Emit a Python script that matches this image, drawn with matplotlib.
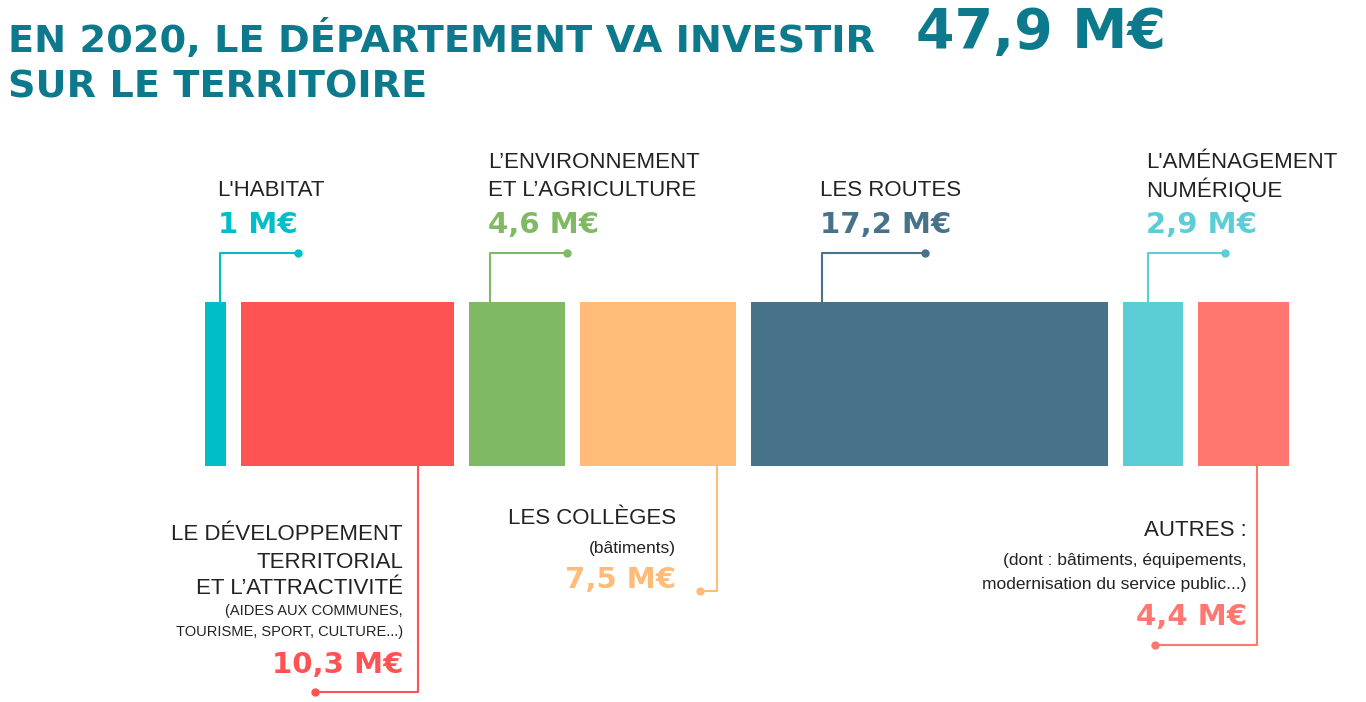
import matplotlib
matplotlib.use("Agg")
import matplotlib.pyplot as plt

# data
categories = ["L'HABITAT", "LE DÉVELOPPEMENT TERRITORIAL", "L'ENVIRONNEMENT ET L'AGRICULTURE",
              "LES COLLÈGES", "LES ROUTES", "L'AMÉNAGEMENT NUMÉRIQUE", "AUTRES"]
values = [1.0, 10.3, 4.6, 7.5, 17.2, 2.9, 4.4]
value_labels = ["1 M€", "10,3 M€", "4,6 M€", "7,5 M€", "17,2 M€", "2,9 M€", "4,4 M€"]
colors = ["#00BEC8", "#FF5252", "#80B964", "#FFBB77", "#467389", "#5BCDD6", "#FF776E"]
total_label = "47,9 M€"

W, H = 1366, 702
fig = plt.figure(figsize=(W / 100, H / 100), dpi=100)
ax = fig.add_axes([0, 0, 1, 1])
ax.set_xlim(0, W)
ax.set_ylim(H, 0)
ax.axis("off")

FONT = "Liberation Sans"
BOLD = "DejaVu Sans"
TITLE_C = "#0C7A8C"
TXT = "#222222"

ax.text(8, 40, "EN 2020, LE DÉPARTEMENT VA INVESTIR", fontsize=27.5, fontweight="bold",
        color=TITLE_C, family=BOLD, va="center")
ax.text(916, 33, total_label, fontsize=40, fontweight="bold", color=TITLE_C, family=BOLD, va="center")
ax.text(8, 88, "SUR LE TERRITOIRE", fontsize=27.5, fontweight="bold", color=TITLE_C, family=BOLD, va="center")

# bars: width proportional to value
x0, x1, gap = 205, 1289, 15
scale = (x1 - x0 - gap * (len(values) - 1)) / sum(values)
top, bot = 302, 466
lefts = []
x = x0
for v, c in zip(values, colors):
    lefts.append(x)
    ax.add_patch(plt.Rectangle((x, top), v * scale, bot - top, color=c, lw=0))
    x += v * scale + gap

def leader_up(i, frac, length):
    lx = lefts[i] + values[i] * scale * frac
    ax.plot([lx, lx, lx + length], [top, 253, 253], color=colors[i], lw=1.5)
    ax.plot(lx + length, 253, "o", color=colors[i], ms=5)
    return lx

def leader_down(i, frac, ybot, xend):
    lx = lefts[i] + values[i] * scale * frac
    ax.plot([lx, lx, xend], [bot, ybot, ybot], color=colors[i], lw=1.5)
    ax.plot(xend, ybot, "o", color=colors[i], ms=5)

# top labels
top_items = [(0, 0.7, 78, ["L'HABITAT"]),
             (2, 0.22, 77, ["L’ENVIRONNEMENT", "ET L’AGRICULTURE"]),
             (4, 0.2, 103, ["LES ROUTES"]),
             (5, 0.42, 77, ["L'AMÉNAGEMENT", "NUMÉRIQUE"])]
for i, frac, length, lines in top_items:
    lx = leader_up(i, frac, length)
    for k, line in enumerate(lines[::-1]):
        ax.text(lx - 2, 190 - 27 * k, line, fontsize=16, color=TXT, family=FONT, va="center")
    ax.text(lx - 2, 225, value_labels[i], fontsize=21, fontweight="bold", color=colors[i],
            family=BOLD, va="center")

# bottom labels
leader_down(1, 0.83, 692, 315)
for y, s, fs in [(535, "LE DÉVELOPPEMENT", 16), (562, "TERRITORIAL", 16),
                 (588, "ET L’ATTRACTIVITÉ", 16), (611, "(AIDES AUX COMMUNES,", 10.5),
                 (632, "TOURISME, SPORT, CULTURE...)", 10.5)]:
    ax.text(403, y, s, fontsize=fs, color=TXT, family=FONT, va="center", ha="right")
ax.text(403, 665, value_labels[1], fontsize=21, fontweight="bold", color=colors[1],
        family=BOLD, va="center", ha="right")

leader_down(3, 0.88, 591, 700)
ax.text(676, 519, "LES COLLÈGES", fontsize=16, color=TXT, family=FONT, va="center", ha="right")
ax.text(676, 548, "(bâtiments)", fontsize=12.5, color=TXT, family=FONT, va="center", ha="right")
ax.text(676, 580, value_labels[3], fontsize=21, fontweight="bold", color=colors[3],
        family=BOLD, va="center", ha="right")

leader_down(6, 0.65, 645, 1155)
ax.text(1247, 530, "AUTRES :", fontsize=16, color=TXT, family=FONT, va="center", ha="right")
ax.text(1247, 560, "(dont : bâtiments, équipements,", fontsize=12.5, color=TXT, family=FONT,
        va="center", ha="right")
ax.text(1247, 585, "modernisation du service public...)", fontsize=12.5, color=TXT, family=FONT,
        va="center", ha="right")
ax.text(1247, 617, value_labels[6], fontsize=21, fontweight="bold", color=colors[6],
        family=BOLD, va="center", ha="right")

fig.savefig("out.png", dpi=100, facecolor="white")
